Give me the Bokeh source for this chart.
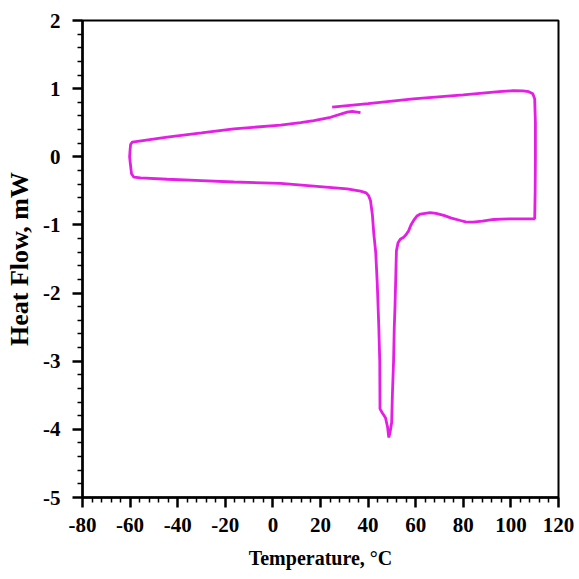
from bokeh.plotting import figure
from bokeh.models import Range1d, FixedTicker
from bokeh.embed import file_html
from bokeh.resources import INLINE

# DSC loop: heat flow (mW) vs temperature (°C), traced in drawing order
temperature = [24.9, 40, 59, 80, 95, 101, 105, 107.5, 109.2, 110.0, 110.3, 110.3, 110.2, 110.0,
               106, 101.2, 96, 92.8, 88, 84, 81, 78.8, 75, 71.8, 68.5, 66, 62, 60.5, 59.2, 58,
               57.1, 56, 55, 53.5, 52.6, 51.9, 51.6, 51.3, 51.0, 50.7, 50.2, 49.9, 49.2, 48.7,
               48.2, 47.3, 46.0, 45.0, 44.9, 44.5, 44.0, 43.8, 43.2, 42.4, 41.8, 41.0, 40.2,
               39.2, 36.8, 31.2, 17.2, 3.2, -16.4, -30, -44.4, -55.6, -58.4, -59.4, -59.9,
               -60.2, -60.0, -59.8, -59.1, -44.4, -30, -16.4, 3.2, 11.6, 17.2, 24.2, 31.2,
               33.3, 36.8]
heat_flow = [0.73, 0.78, 0.85, 0.91, 0.955, 0.97, 0.968, 0.955, 0.925, 0.85, 0.5, 0.0, -0.5, -0.91,
             -0.91, -0.91, -0.915, -0.92, -0.945, -0.96, -0.955, -0.935, -0.9, -0.86, -0.83, -0.82,
             -0.84, -0.87, -0.93, -1.0, -1.08, -1.14, -1.18, -1.21, -1.26, -1.38, -1.8, -2.2,
             -2.5, -3.0, -3.5, -3.9, -4.05, -4.12, -3.97, -3.83, -3.76, -3.7, -3.0, -2.5, -2.0,
             -1.82, -1.4, -1.13, -0.85, -0.64, -0.57, -0.53, -0.505, -0.47, -0.43, -0.39, -0.37,
             -0.35, -0.33, -0.31, -0.30, -0.25, -0.1, 0.0, 0.1, 0.18, 0.215, 0.29, 0.35, 0.41,
             0.465, 0.5, 0.53, 0.58, 0.655, 0.665, 0.648]

x_ticks = [-80, -60, -40, -20, 0, 20, 40, 60, 80, 100, 120]
x_tick_labels = ["-80", "-60", "-40", "-20", "0", "20", "40", "60", "80", "100", "120"]
y_ticks = [-5, -4, -3, -2, -1, 0, 1, 2]
y_tick_labels = ["-5", "-4", "-3", "-2", "-1", "0", "1", "2"]

FONT = "Liberation Serif"
MAGENTA = "#E41EE4"

p = figure(width=579, height=579, output_backend="svg", toolbar_location=None,
           x_range=Range1d(-80, 120), y_range=Range1d(-5, 2),
           min_border_left=82, min_border_right=21, min_border_top=20, min_border_bottom=82)
p.background_fill_color = "white"
p.border_fill_color = "white"
p.grid.visible = False
p.outline_line_color = "black"
p.outline_line_width = 2

p.line(temperature, heat_flow, line_color=MAGENTA, line_width=2.8)

x_minor = [v for v in range(-80, 121, 4) if v % 20 != 0]
y_minor = [round(-5 + 0.2 * i, 1) for i in range(36) if i % 5 != 0]

p.xaxis.ticker = FixedTicker(ticks=x_ticks, minor_ticks=x_minor)
p.yaxis.ticker = FixedTicker(ticks=y_ticks, minor_ticks=y_minor)
p.xaxis.major_label_overrides = {t: l for t, l in zip(x_ticks, x_tick_labels)}
p.yaxis.major_label_overrides = {t: l for t, l in zip(y_ticks, y_tick_labels)}

p.xaxis.axis_label = "Temperature, \u00b0C"
p.yaxis.axis_label = "Heat Flow, mW"

for ax in (p.xaxis, p.yaxis):
    ax.axis_line_color = "black"
    ax.axis_line_width = 2.5
    ax.major_tick_line_color = "black"
    ax.major_tick_line_width = 2.5
    ax.minor_tick_line_color = "black"
    ax.minor_tick_line_width = 1.5
    ax.major_tick_in = 0
    ax.major_tick_out = 10
    ax.minor_tick_in = 0
    ax.minor_tick_out = 5
    ax.major_label_text_font = FONT
    ax.major_label_text_font_style = "bold"
    ax.major_label_text_font_size = "21px"
    ax.major_label_text_color = "black"
    ax.axis_label_text_font = FONT
    ax.axis_label_text_font_style = "bold"
    ax.axis_label_text_color = "black"

p.xaxis.major_label_standoff = 10
p.yaxis.major_label_standoff = 12
p.xaxis.axis_label_text_font_size = "20px"
p.yaxis.axis_label_text_font_size = "26px"
p.xaxis.axis_label_standoff = 12
p.yaxis.axis_label_standoff = 6

open("out.html", "w").write(file_html(p, INLINE))
